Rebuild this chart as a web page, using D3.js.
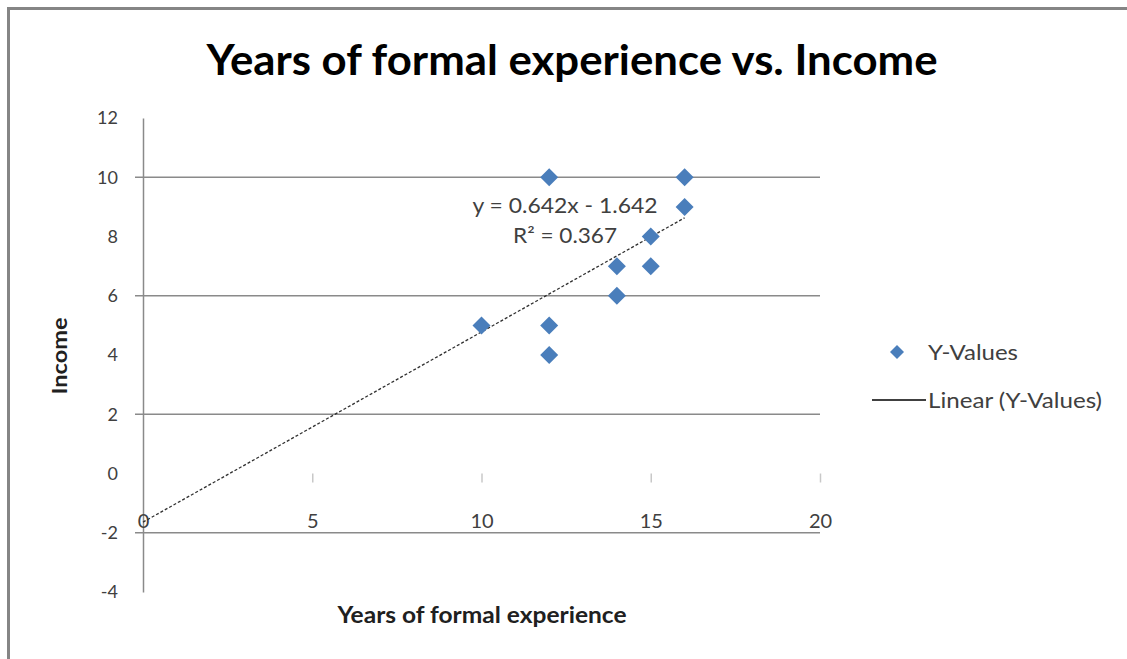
<!DOCTYPE html>
<html><head><meta charset="utf-8">
<script src="https://cdn.jsdelivr.net/npm/d3@7"></script>
<style>body{margin:0;background:#fff}svg{display:block}</style>
</head><body><svg id="c" width="1127" height="659"></svg>
<script>
const xs = [10, 12, 12, 12, 14, 14, 15, 15, 16, 16];
const ys = [5, 10, 5, 4, 7, 6, 8, 7, 10, 9];
const yTicks = [12, 10, 8, 6, 4, 2, 0, -2, -4];
const gridVals = [10, 6, 2, -2];
const xTicks = [0, 5, 10, 15, 20];
const slope = 0.642, intercept = -1.642;
const trendX = [0, 16];
const title = "Years of formal experience vs. Income";
const xTitle = "Years of formal experience";
const yTitle = "Income";
const eqText = "y = 0.642x - 1.642";
const r2Text = "R² = 0.367";
const legendLabels = ["Y-Values", "Linear (Y-Values)"];

const svg = d3.select("#c");
const font = "Lato, 'Open Sans', sans-serif";
const x = d3.scaleLinear().domain([0, 20]).range([143, 820]);
const y = d3.scaleLinear().domain([-4, 12]).range([592, 118]);

// frame (top & left)
svg.append("line").attr("x1", 7).attr("x2", 1127).attr("y1", 8.5).attr("y2", 8.5).attr("stroke", "#858585").attr("stroke-width", 3);
svg.append("line").attr("x1", 8.5).attr("x2", 8.5).attr("y1", 7).attr("y2", 659).attr("stroke", "#858585").attr("stroke-width", 3);

// title
svg.append("text").attr("x", 572).attr("y", 75).attr("text-anchor", "middle")
  .attr("textLength", 731).attr("lengthAdjust", "spacingAndGlyphs")
  .attr("font-family", font).attr("font-weight", "bold").attr("font-size", 42).attr("fill", "#000").text(title);

// gridlines
svg.append("g").selectAll("line").data(gridVals).join("line")
  .attr("x1", x(0) - 8).attr("x2", x(20)).attr("y1", d => y(d)).attr("y2", d => y(d))
  .attr("stroke", "#8a8a8a").attr("stroke-width", 1.5);

// y axis
const yAxis = svg.append("g").attr("transform", `translate(${x(0)},0)`)
  .call(d3.axisLeft(y).tickValues(yTicks).tickSize(0).tickPadding(25).tickFormat(d => String(d)));
yAxis.select(".domain").attr("stroke", "#8a8a8a").attr("stroke-width", 1.5);
yAxis.selectAll("text").attr("font-family", font).attr("font-size", 18).attr("fill", "#404040");

// x axis at y=0 (ticks only) with labels lower
const xAxis = svg.append("g").attr("transform", `translate(0,${y(0)})`)
  .call(d3.axisBottom(x).tickValues(xTicks).tickSize(9).tickPadding(31).tickFormat(d => String(d)));
xAxis.select(".domain").remove();
xAxis.selectAll("line").attr("stroke", "#c8c8c8").attr("stroke-width", 1.5);
xAxis.selectAll(".tick").filter(d => d === 0).select("line").remove();
xAxis.selectAll("text").attr("font-family", font).attr("font-size", 20).attr("fill", "#404040");

// axis titles
svg.append("text").attr("x", 482).attr("y", 623).attr("text-anchor", "middle")
  .attr("textLength", 289).attr("lengthAdjust", "spacingAndGlyphs")
  .attr("font-family", font).attr("font-weight", "bold").attr("font-size", 22).attr("fill", "#202020").text(xTitle);
svg.append("text").attr("transform", `translate(67,356) rotate(-90)`).attr("text-anchor", "middle")
  .attr("textLength", 77).attr("lengthAdjust", "spacingAndGlyphs")
  .attr("font-family", font).attr("font-weight", "bold").attr("font-size", 21).attr("fill", "#202020").text(yTitle);

// trendline
svg.append("line")
  .attr("x1", x(trendX[0])).attr("y1", y(slope * trendX[0] + intercept))
  .attr("x2", x(trendX[1])).attr("y2", y(slope * trendX[1] + intercept))
  .attr("stroke", "#303030").attr("stroke-width", 1.3).attr("stroke-dasharray", "3,2");

// points
const diamond = s => `M0,${-s}L${s},0L0,${s}L${-s},0Z`;
svg.append("g").selectAll("path").data(xs.map((v, i) => [v, ys[i]])).join("path")
  .attr("transform", d => `translate(${x(d[0])},${y(d[1])})`)
  .attr("d", diamond(9)).attr("fill", "#4a7ebb");

// equation
svg.append("text").attr("x", 565).attr("y", 213).attr("text-anchor", "middle")
  .attr("textLength", 185).attr("lengthAdjust", "spacingAndGlyphs")
  .attr("font-family", font).attr("font-size", 21).attr("fill", "#404040").text(eqText);
svg.append("text").attr("x", 565).attr("y", 243).attr("text-anchor", "middle")
  .attr("textLength", 104).attr("lengthAdjust", "spacingAndGlyphs")
  .attr("font-family", font).attr("font-size", 21).attr("fill", "#404040").text(r2Text);

// legend
svg.append("path").attr("transform", "translate(897,352)").attr("d", diamond(7)).attr("fill", "#4a7ebb");
svg.append("text").attr("x", 928).attr("y", 360)
  .attr("textLength", 90).attr("lengthAdjust", "spacingAndGlyphs")
  .attr("font-family", font).attr("font-size", 21).attr("fill", "#404040").text(legendLabels[0]);
svg.append("line").attr("x1", 872).attr("x2", 926).attr("y1", 400).attr("y2", 400).attr("stroke", "#000").attr("stroke-width", 1.5);
svg.append("text").attr("x", 928).attr("y", 408)
  .attr("textLength", 174).attr("lengthAdjust", "spacingAndGlyphs")
  .attr("font-family", font).attr("font-size", 21).attr("fill", "#404040").text(legendLabels[1]);
</script></body></html>
